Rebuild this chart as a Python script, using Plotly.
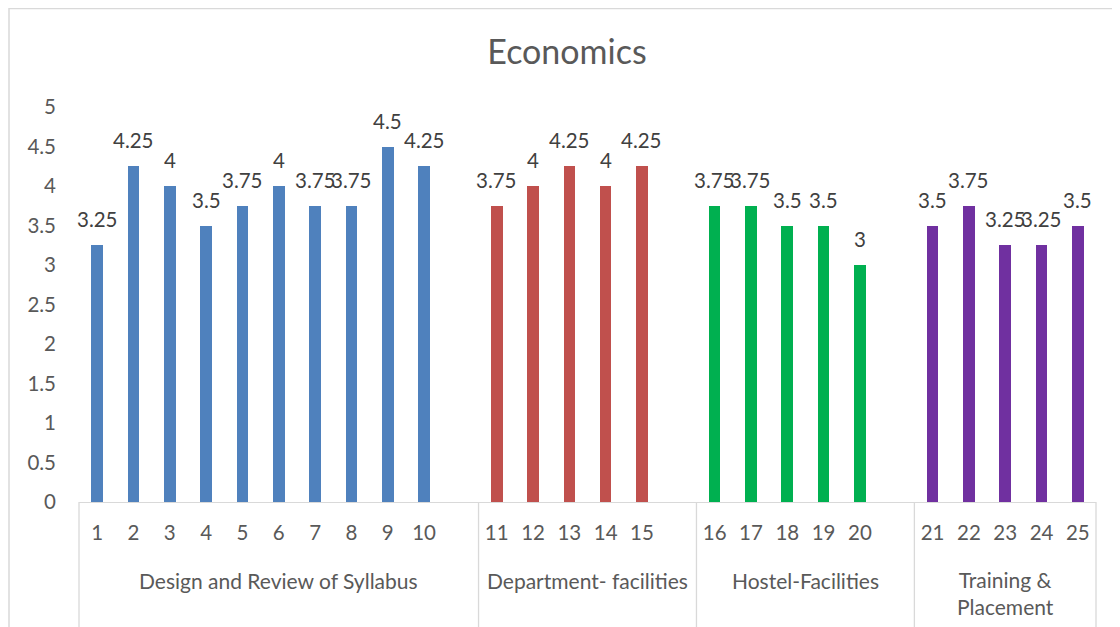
import plotly.graph_objects as go

# ---- data ----
groups = ["Design and Review of Syllabus", "Department- facilities", "Hostel-Facilities", "Training &<br>Placement"]
group_items = [
    ["1", "2", "3", "4", "5", "6", "7", "8", "9", "10"],
    ["11", "12", "13", "14", "15"],
    ["16", "17", "18", "19", "20"],
    ["21", "22", "23", "24", "25"],
]
group_values = [
    [3.25, 4.25, 4, 3.5, 3.75, 4, 3.75, 3.75, 4.5, 4.25],
    [3.75, 4, 4.25, 4, 4.25],
    [3.75, 3.75, 3.5, 3.5, 3],
    [3.5, 3.75, 3.25, 3.25, 3.5],
]
group_colors = ["#4F81BD", "#C0504D", "#00B050", "#7030A0"]
title = "Economics"
y_ticks = [0, 0.5, 1, 1.5, 2, 2.5, 3, 3.5, 4, 4.5, 5]

# ---- layout geometry (pixels); page body has an 8px margin ----
O = 8
W, H = 1120 - O, 627 - O
ML, MT = 79 - O, 107 - O
MR = W - (1096 - O)
MB = H - (502 - O)
FONT = "Lato, 'Open Sans', sans-serif"

# slot positions: each group followed by an empty slot (except last)
positions, spans = [], []
slot = 0
for gi, items in enumerate(group_items):
    start = slot
    positions.append(list(range(slot, slot + len(items))))
    slot += len(items)
    if gi < len(group_items) - 1:
        slot += 1
    spans.append((start - 0.5, slot - 0.5))
n_slots = slot

plot_w = W - ML - MR
plot_h = H - MT - MB

def paper_x(p):  # data x -> paper
    return (p + 0.5) / n_slots

def paper_y_from_ref(py):  # reference pixel y -> paper y
    return ((H - MB) - (py - O)) / plot_h

fig = go.Figure()
all_pos, all_txt = [], []
for gi in range(len(groups)):
    fig.add_trace(go.Bar(
        x=positions[gi], y=group_values[gi],
        marker=dict(color=group_colors[gi], line=dict(width=0)),
        width=0.32, showlegend=False, hoverinfo="y",
    ))
    all_pos += positions[gi]
    all_txt += group_items[gi]
    for p, v in zip(positions[gi], group_values[gi]):
        fig.add_annotation(x=p, y=v, xref="x", yref="y", text=f"{v:g}",
                           showarrow=False, xanchor="center", yanchor="bottom", yshift=12,
                           font=dict(family=FONT, size=20.5, color="#404040"))

shapes = []
bottom = paper_y_from_ref(640)
bounds = [a for a, b in spans] + [spans[-1][1]]
for a in bounds:
    shapes.append(dict(type="line", xref="paper", yref="paper", x0=paper_x(a), x1=paper_x(a),
                       y0=0, y1=bottom, line=dict(color="#D9D9D9", width=1.3)))
# chart border
shapes.append(dict(type="rect", xref="paper", yref="paper",
                   x0=((9 - O) - ML) / plot_w, x1=1.2, y0=paper_y_from_ref(8.5), y1=-0.6,
                   line=dict(color="#D9D9D9", width=1.5)))

for gi, (a, b) in enumerate(spans):
    two = "<br>" in groups[gi]
    fig.add_annotation(x=paper_x((a + b) / 2), y=paper_y_from_ref(592.5 if two else 580),
                       xref="paper", yref="paper", text=groups[gi], showarrow=False,
                       xanchor="center", yanchor="middle", align="center",
                       font=dict(family=FONT, size=21, color="#595959"))

fig.update_layout(
    width=W, height=H, margin=dict(l=ML, r=MR, t=MT, b=MB),
    paper_bgcolor="white", plot_bgcolor="white",
    title=dict(text=title, x=(567 - O) / W, xanchor="center",
               y=1 - (52 - O) / H, yanchor="middle",
               font=dict(family=FONT, size=34, color="#595959")),
    shapes=shapes,
    bargap=0,
    xaxis=dict(range=[-0.5, n_slots - 0.5], tickmode="array", tickvals=all_pos, ticktext=all_txt,
               showline=True, linecolor="#D9D9D9", linewidth=1.3, showgrid=False, zeroline=False,
               ticks="", ticklen=0, ticklabelstandoff=12,
               tickfont=dict(family=FONT, size=20.5, color="#595959"), fixedrange=True),
    yaxis=dict(range=[0, 5], tickmode="array", tickvals=y_ticks, ticktext=[f"{t:g}" for t in y_ticks],
               showline=False, showgrid=False, zeroline=False, ticks="", ticklabelstandoff=22,
               tickfont=dict(family=FONT, size=20.5, color="#595959"), fixedrange=True),
)

fig.write_html("out.html")
